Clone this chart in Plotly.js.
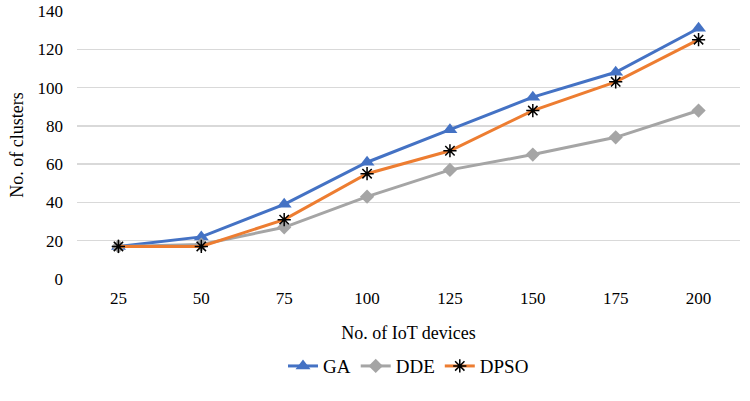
<!DOCTYPE html>
<html>
<head>
<meta charset="utf-8">
<script src="https://cdn.plot.ly/plotly-3.0.1.min.js"></script>
<style>
  html, body { margin: 0; padding: 0; background: #fff; }
  #chart { width: 750px; height: 401px; }
</style>
</head>
<body>
<div id="chart"></div>
<script>
// data
const devices = ['25', '50', '75', '100', '125', '150', '175', '200'];
const ga = [17, 22, 39, 61, 78, 95, 108, 131];
const dde = [17, 18, 27, 43, 57, 65, 74, 88];
const dpso = [17, 17, 31, 55, 67, 88, 103, 125];

const serif = '"Liberation Serif", "Times New Roman", serif';

const traces = [
  {
    x: devices, y: ga, name: 'GA', type: 'scatter', mode: 'lines+markers',
    line: { color: '#4472c4', width: 3 },
    marker: { symbol: 'triangle-up', size: 13, color: '#4472c4' }
  },
  {
    x: devices, y: dde, name: 'DDE', type: 'scatter', mode: 'lines+markers',
    line: { color: '#a5a5a5', width: 3 },
    marker: { symbol: 'diamond', size: 11, color: '#a5a5a5' }
  },
  {
    x: devices, y: dpso, name: 'DPSO', type: 'scatter', mode: 'lines+markers',
    line: { color: '#ed7d31', width: 3 },
    marker: { symbol: 'asterisk-open', size: 11, color: '#000', line: { color: '#000', width: 1.5 } }
  }
];

const layout = {
  width: 750,
  height: 401,
  margin: { l: 77, r: 10, t: 11, b: 122, autoexpand: false },
  paper_bgcolor: '#fff',
  plot_bgcolor: '#fff',
  font: { family: serif, size: 17, color: '#000' },
  showlegend: true,
  legend: {
    orientation: 'h', x: 0.5, xanchor: 'center', y: -0.325, yanchor: 'middle',
    font: { family: serif, size: 19, color: '#000' }
  },
  xaxis: {
    type: 'category',
    range: [-0.5, 7.5],
    automargin: false,
    showgrid: false,
    showline: false,
    ticks: '',
    ticklabelstandoff: 7,
    tickfont: { family: serif, size: 17, color: '#000' },
    title: { text: 'No. of IoT devices', font: { family: serif, size: 18, color: '#000' }, standoff: 19 }
  },
  yaxis: {
    range: [0, 140],
    dtick: 20,
    automargin: false,
    showgrid: true,
    gridcolor: '#d9d9d9',
    gridwidth: 1.5,
    zeroline: false,
    showline: false,
    ticks: '',
    ticklabelstandoff: 13,
    tickfont: { family: serif, size: 17, color: '#000' },
    title: { text: 'No. of clusters', font: { family: serif, size: 18, color: '#000' }, standoff: 9 }
  }
};

Plotly.newPlot('chart', traces, layout, { displayModeBar: false, staticPlot: true });
</script>
</body>
</html>
